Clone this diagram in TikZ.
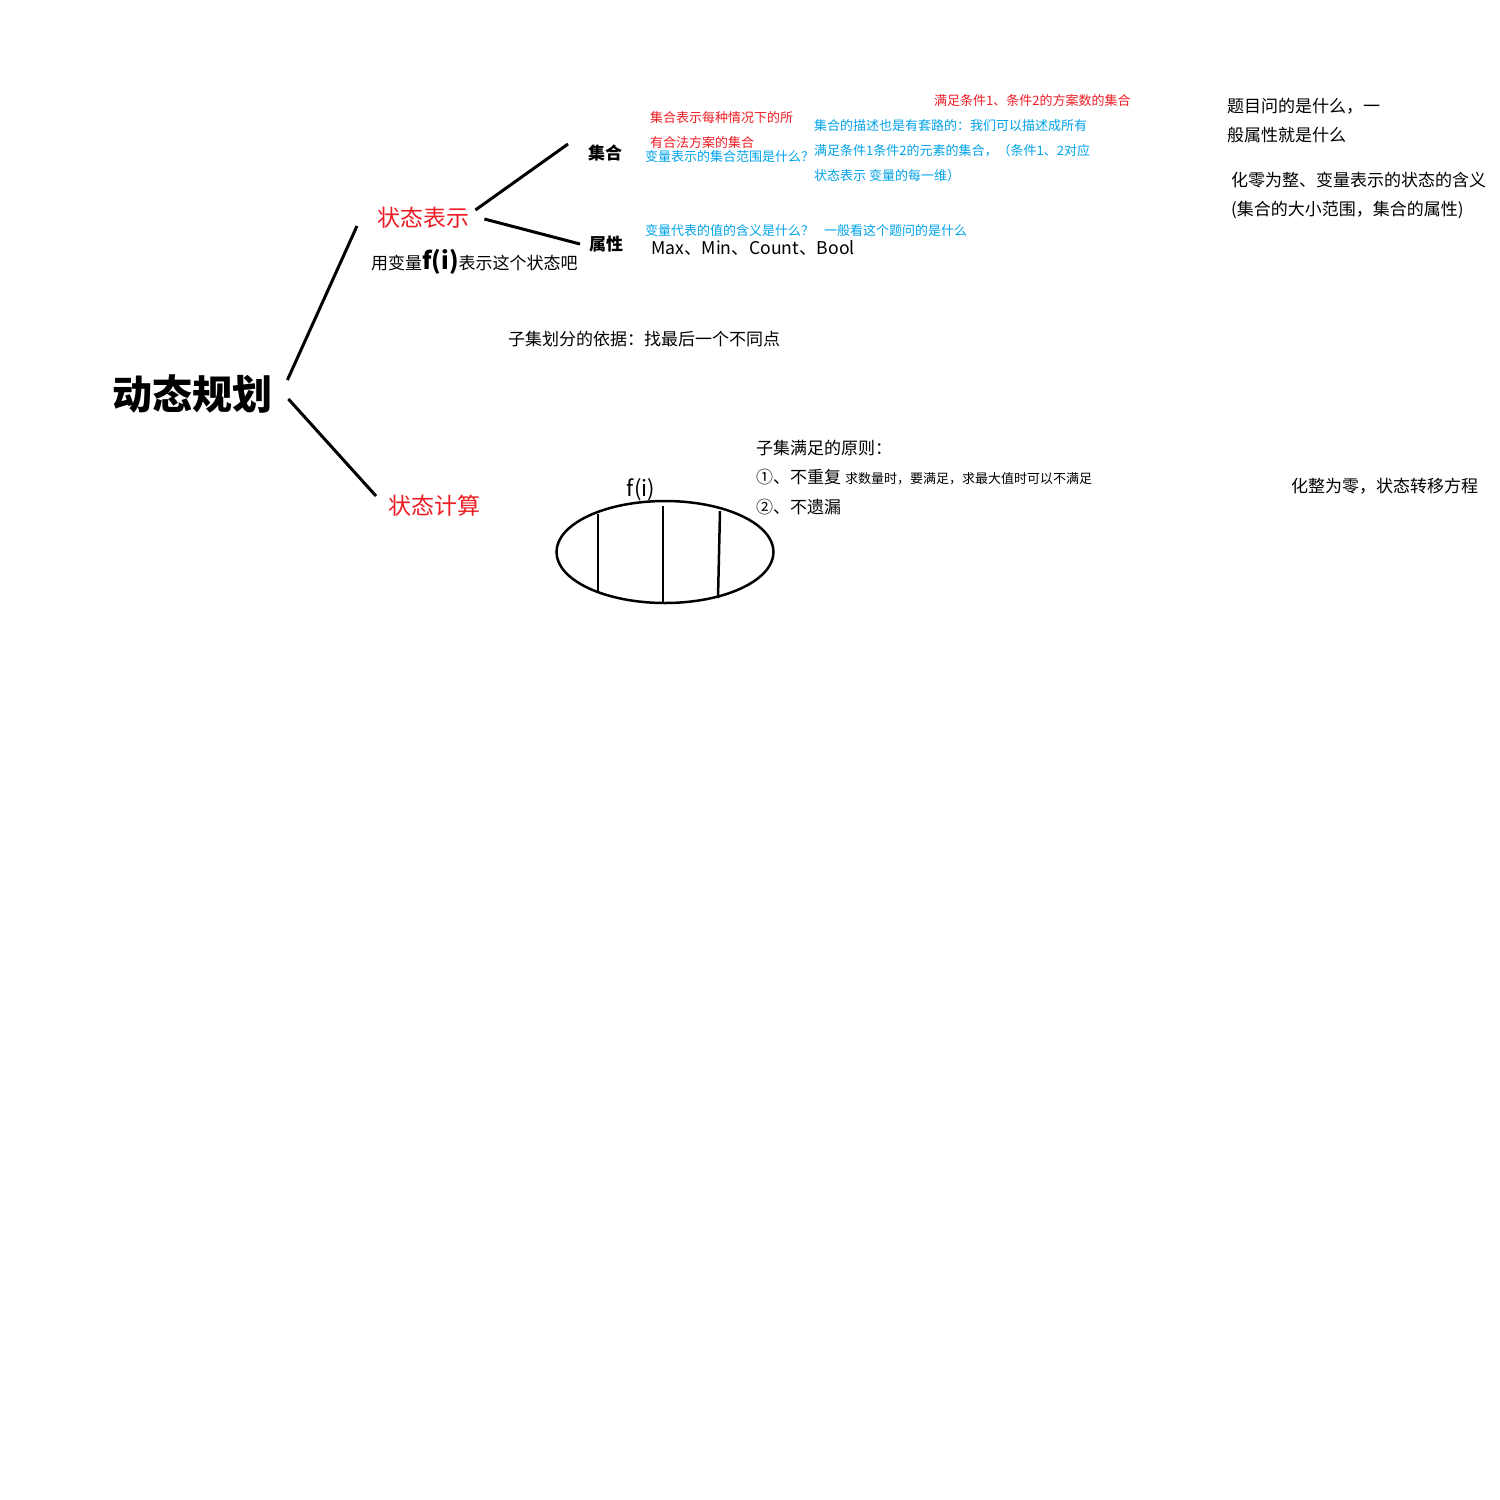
\documentclass[tikz,border=0pt]{standalone}
\usepackage{fontspec}
\setmainfont{Noto Sans CJK SC}
\usepackage{tikz}
\definecolor{paintred}{RGB}{237, 28, 36}
\definecolor{paintblue}{RGB}{0, 162, 232}
\usetikzlibrary{positioning,shapes.geometric}

\begin{document}
\begin{tikzpicture}[x=1pt, y=-1pt, every node/.style={inner sep=0pt, anchor=west},
    branch/.style={line width=3pt, black},
    note/.style={font=\fontsize{17}{29}\selectfont, align=left},
    tiny/.style={font=\fontsize{13}{25}\selectfont, align=left},
    heading/.style={font=\fontsize{23}{23}\selectfont, text=paintred}]
    \useasboundingbox (0,0) rectangle (1500,1500);

    % Mind map nodes
    \node[font=\fontsize{40}{40}\selectfont\bfseries] (root) at (112,394) {动态规划};
    \node[heading] (rep) at (377,218) {状态表示};
    \node[heading] (calc) at (388,506) {状态计算};
    \node[note] (fvar) at (371,262) {用变量{\fontsize{24}{24}\selectfont\bfseries f(i)}表示这个状态吧};
    \node[note, font=\fontsize{17}{17}\selectfont\bfseries] (setn) at (588,153) {集合};
    \node[note, font=\fontsize{17}{17}\selectfont\bfseries] (attr) at (589,244) {属性};

    % Branches
    \draw[branch] ([shift={(15,-14)}]root.east) -- ([shift={(-20,8)}]rep.west);
    \draw[branch] ([shift={(16,5)}]root.east) -- ([shift={(-12,-10)}]calc.west);
    \draw[branch] ([shift={(6,-8)}]rep.east) -- ([shift={(-20,-9)}]setn.west);
    \draw[branch] ([shift={(15,1)}]rep.east) -- ([shift={(-9,0)}]attr.west);

    % Notes on the set
    \node[tiny, text=paintred] (setmean) at (650,130.5) {集合表示每种情况下的所\\有合法方案的集合};
    \node[tiny, text=paintblue] (setrange) at (645,157) {变量表示的集合范围是什么？};
    \node[tiny, text=paintred] (count) at (934,101) {满足条件1、条件2的方案数的集合};
    \node[tiny, text=paintblue] (setdesc) at (814,151) {集合的描述也是有套路的：我们可以描述成所有\\满足条件1条件2的元素的集合，（条件1、2对应\\状态表示 变量的每一维）};

    % Notes on the attribute
    \node[tiny, text=paintblue] (attrmean) at (645,231) {变量代表的值的含义是什么？\hspace{10pt}一般看这个题问的是什么};
    \node[font=\fontsize{17.6}{18}\selectfont] (kinds) at (651,248) {Max、Min、Count、Bool};

    % Right side notes
    \node[note] (ask) at (1227,120.5) {题目问的是什么，一\\般属性就是什么};
    \node[note] (whole) at (1231,195.5) {化零为整、变量表示的状态的含义\\(集合的大小范围，集合的属性)};
    \node[note] (parts) at (1291,486) {化整为零，状态转移方程};

    % State computation
    \node[note] (split) at (508,339) {子集划分的依据：找最后一个不同点};
    \node[note, font=\fontsize{17}{29.5}\selectfont] (rule) at (756,477.5) {子集满足的原则：\\①、不重复 {\fontsize{13}{13}\selectfont 求数量时，要满足，求最大值时可以不满足}\\②、不遗漏};
    \node[draw, ellipse, line width=2.5pt, minimum width=217, minimum height=102, anchor=center] (sub) at (665,552) {};
    \node[font=\fontsize{22}{22}\selectfont, above=-1pt of sub, xshift=-24pt] (fi) {f(i)};
    \draw[line width=2.5pt] ([shift={(-67,-38)}]sub.center) -- ([shift={(-67,40)}]sub.center);
    \draw[line width=2.5pt] ([shift={(-2,-46)}]sub.center) -- ([shift={(-2,51)}]sub.center);
    \draw[line width=2.5pt] ([shift={(55,-41)}]sub.center) -- ([shift={(53,46)}]sub.center);
\end{tikzpicture}
\end{document}
